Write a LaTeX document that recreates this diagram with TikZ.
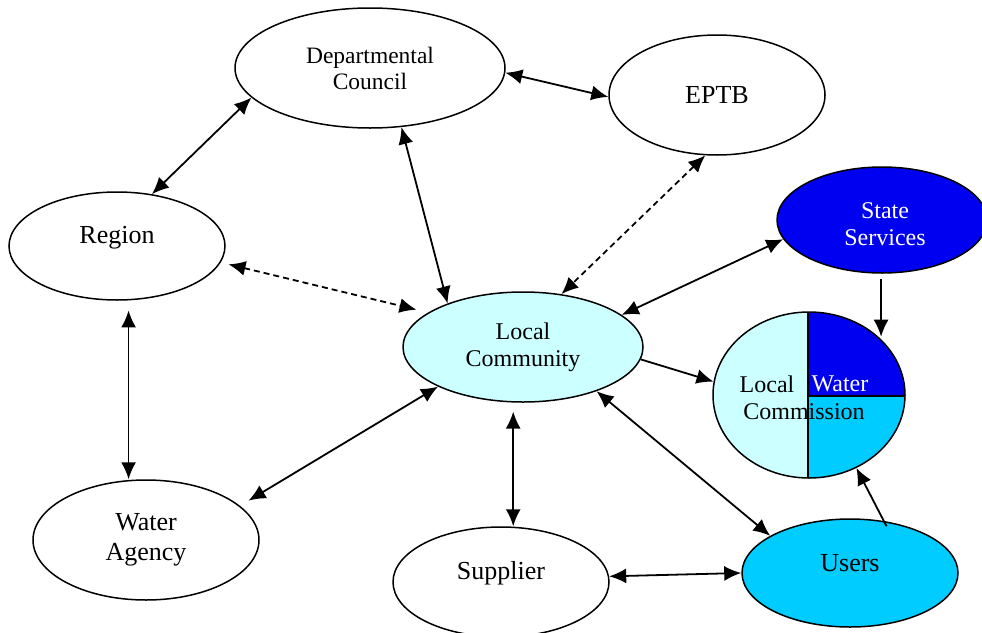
\documentclass[tikz,border=0pt]{standalone}
\usepackage{fontspec}
\setmainfont{Liberation Serif}
\usetikzlibrary{shapes.geometric,arrows.meta}
\definecolor{lcyan}{HTML}{CCFFFF}
\definecolor{scyan}{HTML}{00CCFF}
\definecolor{dblue}{HTML}{0000F0}
\tikzset{
  ell/.style={ellipse, draw, line width=1.5pt, inner sep=0pt, align=center},
  both/.style={line width=1.8pt, {Latex[length=17pt,width=15pt]}-{Latex[length=17pt,width=15pt]}},
  one/.style={line width=1.8pt, -{Latex[length=17pt,width=15pt]}},
  dsh/.style={dash pattern=on 6pt off 4pt},
  fa/.style={font=\fontsize{26}{30}\selectfont},
  fb/.style={font=\fontsize{24}{27}\selectfont},
  fc/.style={font=\fontsize{23.5}{26}\selectfont},
}
\begin{document}
\begin{tikzpicture}[x=1pt,y=-1pt]
\useasboundingbox (0,0) rectangle (982,632);
% commission fills
\begin{scope}
  \clip (809,395) ellipse [x radius=96, y radius=83];
  \fill[lcyan] (700,300) rectangle (808,490);
  \fill[dblue] (808,300) rectangle (920,396);
  \fill[scyan] (808,396) rectangle (920,490);
  \draw[line width=1.5pt] (808,300) -- (808,490);
  \draw[line width=1.5pt] (808,396) -- (920,396);
\end{scope}
\node[ell, minimum width=192pt, minimum height=166pt] (wc) at (809,395) {};
\node[fb] (wcl) at (767,384) {Local};
\node[fb, text=white] (wcw) at (840,384) {Water};
\node[fb] (wcc) at (804,412) {Commission};

\node[ell, fc, minimum width=270pt, minimum height=120pt] (dept) at (370,68) {Departmental\\Council};
\node[ell, fa, minimum width=216pt, minimum height=120pt] (eptb) at (717,95) {EPTB};
\node[ell, minimum width=216pt, minimum height=108pt] (region) at (117,246) {};
\node[fa] (regt) at (117,238) {Region};
\node[ell, fill=dblue, minimum width=210pt, minimum height=106pt] (ss) at (882,220) {};
\node[fb, text=white, align=center] (sst) at (885,224) {State\\Services};
\node[ell, fb, fill=lcyan, minimum width=240pt, minimum height=110pt] (lc) at (523,347) {Local\\Community};
\node[ell, fa, minimum width=226pt, minimum height=120pt] (wa) at (146,540) {Water\\Agency};
\node[ell, minimum width=216pt, minimum height=110pt] (sup) at (501,582) {};
\node[fa] (supt) at (501,573) {Supplier};
\node[ell, fill=scyan, minimum width=216pt, minimum height=108pt] (users) at (850,573) {};
\node[fa] (ust) at (850,563) {Users};

% connectors
\draw[both] (region.56) -- (dept.194);
\draw[both] (dept.-2) -- (eptb.181);
\draw[both] (dept.-62) -- (lc.150);
\draw[both, dsh] (eptb.259) -- (lc.54);
\draw[both, dsh, shorten <=8pt, shorten >=12pt] (region.-9) -- (lc.160);
\draw[both] (ss.191) -- (lc.18);
\draw[one] (lc.-6) -- (wc.172);
\draw[one, shorten <=5pt] (ss.-91) -- (ss.-91 |- wc.40);
\draw[both, shorten <=10pt] (region.-78) -- (region.-78 |- wa.north);
\draw[both, shorten >=10pt] (lc.205) -- (wa.20);
\draw[both, shorten <=9pt] (lc.-100) -- (lc.-100 |- sup.north);
\draw[both] (lc.-31) -- (users.155);
\draw[both] (sup.3) -- (users.west);
\draw[one, shorten <=-6pt] (users.57) -- (wc.-57);
\end{tikzpicture}
\end{document}
